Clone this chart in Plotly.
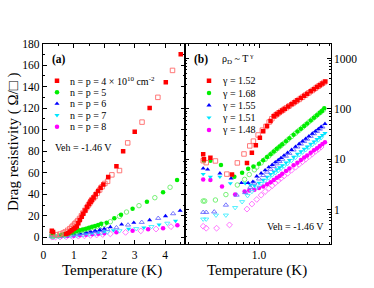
import plotly.graph_objects as go

# ---------------- DATA ----------------
series_names = ["n = p = 4 \u00d7 10<sup>10</sup> cm<sup>-2</sup>", "n = p = 5", "n = p = 6", "n = p = 7", "n = p = 8"]
gamma_labels = ["\u03b3 = 1.52", "\u03b3 = 1.68", "\u03b3 = 1.55", "\u03b3 = 1.51", "\u03b3 = 1.48"]

# Panel (a): linear scale (Temperature K, Drag resistivity Ohm/sq)
a_red_f_T = [0.28, 0.32, 0.75, 0.82, 0.88, 0.94, 1.0, 1.05, 1.1, 1.15, 1.2, 1.26, 1.31, 1.38, 1.44, 1.5, 1.55, 1.59, 1.65, 1.72, 1.8, 1.88, 1.97, 2.13, 2.4, 2.62, 3.0, 3.49, 4.02, 4.51]
a_red_f_v = [6, 5, 3, 4, 5.5, 6.5, 8, 9, 10, 13, 16, 19, 22, 25, 28.5, 31, 33, 34.7, 37, 40, 43, 46, 49, 56, 66, 80, 98, 120, 144, 170]
a_red_o_T = [0.3, 0.42, 0.55, 0.65, 0.72, 0.8, 0.87, 0.93, 0.98, 1.03, 1.08, 1.13, 1.19, 1.25, 1.3, 1.36, 1.42, 1.48, 1.53, 1.56, 1.6, 1.65, 1.7, 1.77, 1.85, 1.93, 2.02, 2.11, 2.25, 2.5, 2.77, 3.24, 3.76, 4.24]
a_red_o_v = [3.5, 2.5, 3, 4, 5, 6.5, 8, 9.5, 11, 12.5, 14, 15.5, 17.5, 20, 22.5, 25, 27.5, 30, 32, 33.5, 35, 36.5, 38, 41, 44, 47, 50, 52, 58, 62, 87.7, 107, 130, 155]

a_grn_f_T = [0.28, 0.32, 0.6, 0.7, 0.8, 0.9, 1.0, 1.1, 1.2, 1.3, 1.4, 1.5, 1.6, 1.7, 1.8, 1.9, 2.08, 2.33, 2.55, 2.93, 3.4, 3.93, 4.39]
a_grn_f_v = [4.5, 4, 2.5, 3, 3.5, 4.2, 5, 5.8, 6.5, 7.2, 8, 9, 9.8, 10.5, 11.5, 12.5, 13.5, 17.7, 21, 26.6, 33, 41.8, 53.3]
a_grn_o_T = [0.28, 0.35, 0.5, 0.65, 0.75, 0.85, 0.95, 1.05, 1.15, 1.25, 1.35, 1.45, 1.55, 1.65, 1.75, 1.85, 2.0, 2.2, 2.5, 2.73, 3.14, 3.66, 4.16]
a_grn_o_v = [1.2, 1.2, 1.5, 2.2, 2.8, 3.5, 4.2, 5, 5.7, 6.4, 7, 7.8, 8.6, 9.4, 10.2, 11, 12, 14.5, 19.5, 23.5, 29.4, 36.8, 46.5]

a_blu_f_T = [0.28, 0.32, 0.6, 0.8, 1.0, 1.2, 1.4, 1.55, 1.7, 1.85, 2.0, 2.2, 2.57, 2.97, 3.49, 4.01, 4.49]
a_blu_f_v = [3.5, 3, 2, 2.5, 3.2, 4, 4.8, 5.5, 6.2, 7, 8, 9.5, 12, 13.6, 16, 19.8, 24.7]
a_blu_o_T = [0.28, 0.35, 0.5, 0.7, 0.9, 1.1, 1.3, 1.5, 1.7, 1.9, 2.1, 2.4, 2.78, 3.23, 3.77, 4.26]
a_blu_o_v = [0.8, 0.8, 1, 1.5, 2.2, 3, 3.8, 4.8, 5.5, 6.5, 7.5, 9, 11.5, 14, 17.7, 22]

a_cyn_f_T = [0.28, 0.32, 0.6, 0.8, 1.0, 1.2, 1.4, 1.6, 1.8, 2.0, 2.3, 2.8, 3.3, 3.8, 4.34]
a_cyn_f_v = [2.8, 2.5, 1.8, 2.0, 2.5, 3, 3.6, 4.2, 4.8, 5.5, 6.5, 7.8, 9, 11.7, 15.2]
a_cyn_o_T = [0.28, 0.35, 0.5, 0.7, 0.9, 1.1, 1.3, 1.5, 1.7, 1.9, 2.1, 2.5, 3.05, 3.55, 4.07]
a_cyn_o_v = [0.5, 0.5, 0.6, 0.9, 1.3, 1.8, 2.3, 2.9, 3.5, 4.1, 4.8, 6, 8, 9.9, 13]

a_mag_f_T = [0.28, 0.32, 0.6, 0.8, 1.0, 1.2, 1.4, 1.6, 1.8, 2.0, 2.4, 2.93, 3.44, 3.93, 4.4]
a_mag_f_v = [2, 1.8, 1.0, 1.2, 1.5, 1.9, 2.3, 2.8, 3.3, 3.8, 4.8, 6, 7.4, 8.4, 11.1]
a_mag_o_T = [0.28, 0.32, 0.4, 0.55, 0.75, 0.95, 1.15, 1.35, 1.55, 1.75, 1.95, 2.2, 2.7, 3.2, 3.7, 4.19]
a_mag_o_v = [0.3, 0.25, 0.25, 0.3, 0.55, 0.8, 1.1, 1.4, 1.8, 2.2, 2.6, 3.2, 4.6, 6, 7.7, 9.9]

# Panel (b): log-log scale
b_red_f_T = [0.28, 0.285, 0.33, 0.54, 0.76, 0.85, 0.93, 1.02, 1.1, 1.2, 1.3, 1.4, 1.5, 1.6, 1.7, 1.8, 1.95, 2.1, 2.25, 2.4, 2.6, 2.8, 3.0, 3.25, 3.5, 3.75, 4.0, 4.25, 4.54]
b_red_f_v = [12.6, 10, 10.8, 5, 8.5, 13.6, 19, 27, 36, 46, 58, 72, 79, 86, 93, 101, 112, 124, 136, 149, 166, 183, 201, 224, 247, 272, 296, 321, 351]
b_red_o_T = [0.28, 0.30, 0.37, 0.48, 0.61, 0.71, 0.81, 0.88, 0.98, 1.08, 1.17, 1.26, 1.34, 1.42, 1.47, 1.52, 1.57, 1.65, 1.75, 1.87, 2.0, 2.17, 2.33, 2.5, 2.7, 2.9, 3.12, 3.37, 3.62, 3.87, 4.12, 4.4]
b_red_o_v = [9.4, 8.6, 9.3, 5.1, 8.5, 12.8, 18.5, 23, 30.5, 38, 45, 55, 64, 72, 76, 80, 84, 90, 97, 106, 116, 129, 142, 155, 172, 190, 210, 233, 258, 283, 308, 336]

b_grn_f_T = [0.285, 0.33, 0.42, 0.57, 0.68, 0.78, 0.88, 1.0, 1.1, 1.2, 1.3, 1.4, 1.5, 1.6, 1.7, 1.85, 2.0, 2.2, 2.4, 2.6, 2.8, 3.0, 3.25, 3.5, 3.75, 4.0, 4.2, 4.43]
b_grn_f_v = [9.4, 9.4, 7.7, 4.5, 5.4, 6.5, 7.2, 8.2, 9.6, 11.1, 12.7, 14.4, 16.2, 18, 19.9, 23, 26.2, 30.7, 35.6, 40.7, 46.1, 51.7, 59.2, 67, 75.3, 83.9, 91, 103]
b_grn_o_T = [0.28, 0.29, 0.37, 0.47, 0.61, 0.72, 0.8, 0.9, 0.95, 1.05, 1.15, 1.25, 1.35, 1.45, 1.55, 1.65, 1.77, 1.92, 2.1, 2.3, 2.5, 2.7, 2.9, 3.12, 3.37, 3.62, 3.87, 4.1, 4.32]
b_grn_o_v = [1.49, 1.49, 1.56, 2.0, 3.1, 4.0, 5.0, 6.2, 7.0, 8.5, 10, 11.6, 13.3, 15, 16.8, 18.7, 21, 24.3, 28.4, 33, 38, 43.3, 48.8, 55.3, 62.8, 71, 79.5, 87, 95]

b_blu_f_T = [0.28, 0.31, 0.41, 0.53, 0.67, 0.78, 0.87, 0.95, 1.05, 1.15, 1.25, 1.35, 1.45, 1.55, 1.65, 1.77, 1.92, 2.1, 2.3, 2.5, 2.7, 2.9, 3.12, 3.37, 3.62, 3.87, 4.12, 4.5]
b_blu_f_v = [6.6, 6.3, 5.3, 4.2, 3.4, 3.4, 3.6, 4.6, 5.3, 6.1, 7.0, 7.8, 8.8, 9.7, 10.7, 12.0, 13.6, 15.5, 17.9, 20.4, 23.0, 25.7, 28.8, 32.5, 36.2, 40.2, 44.3, 50.7]
b_blu_o_T = [0.28, 0.30, 0.36, 0.47, 0.6, 0.73, 0.82, 0.9, 1.0, 1.1, 1.2, 1.3, 1.4, 1.5, 1.6, 1.7, 1.85, 2.0, 2.2, 2.4, 2.6, 2.8, 3.0, 3.25, 3.5, 3.75, 4.0, 4.25]
b_blu_o_v = [0.89, 0.89, 0.91, 1.24, 1.96, 2.2, 2.8, 3.4, 4.1, 4.8, 5.6, 6.4, 7.3, 8.2, 9.1, 10.1, 11.6, 13.2, 15.4, 17.7, 20.2, 22.7, 25.3, 28.8, 32.4, 36.1, 40, 44]

b_cyn_f_T = [0.28, 0.33, 0.41, 0.52, 0.73, 0.82, 0.9, 1.0, 1.1, 1.2, 1.3, 1.4, 1.5, 1.6, 1.7, 1.85, 2.0, 2.2, 2.4, 2.6, 2.8, 3.0, 3.25, 3.5, 3.75, 4.0, 4.25, 4.5]
b_cyn_f_v = [5.1, 4.5, 4.5, 3.35, 3.35, 3.1, 3.0, 3.4, 3.9, 4.5, 5.1, 5.7, 6.3, 6.9, 7.6, 8.6, 9.7, 11.2, 12.8, 14.4, 16.1, 17.9, 20.2, 22.6, 25.1, 27.6, 30.3, 33]
b_cyn_o_T = [0.28, 0.30, 0.375, 0.47, 0.58, 0.68, 0.77, 0.85, 0.95, 1.05, 1.15, 1.25, 1.35, 1.45, 1.55, 1.65, 1.77, 1.92, 2.1, 2.3, 2.5, 2.7, 2.9, 3.12, 3.37, 3.62, 3.87, 4.12]
b_cyn_o_v = [0.65, 0.65, 0.78, 0.78, 1.1, 1.44, 1.9, 2.3, 2.8, 3.3, 3.8, 4.3, 4.9, 5.4, 6.0, 6.6, 7.3, 8.3, 9.5, 10.9, 12.4, 13.9, 15.5, 17.4, 19.6, 21.9, 24.3, 26.8]

b_mag_f_T = [0.28, 0.33, 0.43, 0.58, 0.72, 0.8, 0.9, 1.0, 1.1, 1.2, 1.3, 1.4, 1.5, 1.6, 1.7, 1.85, 2.0, 2.2, 2.4, 2.6, 2.8, 3.0, 3.25, 3.5, 3.75, 4.0, 4.25, 4.5]
b_mag_f_v = [4.0, 3.9, 2.9, 2.0, 2.3, 2.4, 2.5, 2.7, 2.9, 3.2, 3.5, 3.9, 4.3, 4.7, 5.2, 5.9, 6.6, 7.6, 8.6, 9.7, 10.9, 12.0, 13.5, 15.1, 16.7, 18.4, 20.1, 21.9]
b_mag_o_T = [0.28, 0.30, 0.38, 0.51, 0.76, 0.85, 0.95, 1.05, 1.15, 1.25, 1.35, 1.45, 1.55, 1.65, 1.77, 1.92, 2.1, 2.3, 2.5, 2.7, 2.9, 3.12, 3.37, 3.62, 3.87, 4.12]
b_mag_o_v = [0.47, 0.43, 0.43, 0.5, 1.03, 1.3, 1.6, 1.95, 2.3, 2.65, 3.0, 3.4, 3.8, 4.2, 4.7, 5.3, 6.1, 7.0, 8.0, 9.0, 10.1, 11.3, 12.8, 14.4, 15.9, 17.6]

a_xticks = [0, 1, 2, 3, 4]
a_yticks = [0, 20, 40, 60, 80, 100, 120, 140, 160, 180]
b_xticks = [1.0]
b_xticklabels = ["1.0"]
b_yticks = [1, 10, 100, 1000]
b_yticklabels = ["1", "10", "100", "1000"]

# ---------------- STYLE / LAYOUT ----------------
W, H = 374, 288
FONT = "Liberation Serif"
colors = ["#ff0000", "#00ee00", "#0000ff", "#00e5ff", "#ff00ff"]
open_colors = ["#ff6a6a", "#66ee66", "#6a6aff", "#44eeff", "#ff66ff"]
sym_f = ["square", "circle", "triangle-up", "triangle-down", "circle"]
sym_o = ["square-open", "circle-open", "triangle-up-open", "triangle-down-open", "diamond-open"]
msize = 4.5

A_L, A_R = 42.7, 185.0
B_L, B_R = 185.0, 330.7
P_T, P_B = 43.5, 244.0
a_xr = [-0.02, 4.65]
a_yr = [-6.2, 180]
b_xr = [-0.733, 0.71]   # log10
b_yr = [-0.68, 3.30]    # log10

def px(x):
    return x / W

def py(y):
    return 1 - y / H

def a_data(xp, yp):
    x = a_xr[0] + (xp - A_L) / (A_R - A_L) * (a_xr[1] - a_xr[0])
    y = a_yr[1] - (yp - P_T) / (P_B - P_T) * (a_yr[1] - a_yr[0])
    return x, y

def b_data(xp, yp):
    lx = b_xr[0] + (xp - B_L) / (B_R - B_L) * (b_xr[1] - b_xr[0])
    ly = b_yr[1] - (yp - P_T) / (P_B - P_T) * (b_yr[1] - b_yr[0])
    return 10 ** lx, 10 ** ly

a_sets = [(a_red_f_T, a_red_f_v, a_red_o_T, a_red_o_v),
          (a_grn_f_T, a_grn_f_v, a_grn_o_T, a_grn_o_v),
          (a_blu_f_T, a_blu_f_v, a_blu_o_T, a_blu_o_v),
          (a_cyn_f_T, a_cyn_f_v, a_cyn_o_T, a_cyn_o_v),
          (a_mag_f_T, a_mag_f_v, a_mag_o_T, a_mag_o_v)]
b_sets = [(b_red_f_T, b_red_f_v, b_red_o_T, b_red_o_v),
          (b_grn_f_T, b_grn_f_v, b_grn_o_T, b_grn_o_v),
          (b_blu_f_T, b_blu_f_v, b_blu_o_T, b_blu_o_v),
          (b_cyn_f_T, b_cyn_f_v, b_cyn_o_T, b_cyn_o_v),
          (b_mag_f_T, b_mag_f_v, b_mag_o_T, b_mag_o_v)]

fig = go.Figure()

for i in reversed(range(5)):
    fT, fv, oT, ov = a_sets[i]
    fig.add_trace(go.Scatter(x=oT, y=ov, mode="markers", xaxis="x", yaxis="y",
                             marker=dict(symbol=sym_o[i], size=msize, color=open_colors[i], line=dict(width=0.9, color=open_colors[i])),
                             showlegend=False))
    fig.add_trace(go.Scatter(x=fT, y=fv, mode="markers", xaxis="x", yaxis="y",
                             marker=dict(symbol=sym_f[i], size=msize, color=colors[i], line=dict(width=0)),
                             showlegend=False))
    fT, fv, oT, ov = b_sets[i]
    fig.add_trace(go.Scatter(x=oT, y=ov, mode="markers", xaxis="x2", yaxis="y2",
                             marker=dict(symbol=sym_o[i], size=msize, color=open_colors[i], line=dict(width=0.9, color=open_colors[i])),
                             showlegend=False))
    fig.add_trace(go.Scatter(x=fT, y=fv, mode="markers", xaxis="x2", yaxis="y2",
                             marker=dict(symbol=sym_f[i], size=msize, color=colors[i], line=dict(width=0)),
                             showlegend=False))

# legend keys (pixel positions converted to each panel's data space)
leg_a_x, leg_a_y0, leg_a_dy = 57, 80.7, 11.5
leg_b_x, leg_b_y0, leg_b_dy = 209, 80.7, 12.3
for i in range(5):
    ax_, ay_ = a_data(leg_a_x, leg_a_y0 + i * leg_a_dy)
    bx_, by_ = b_data(leg_b_x, leg_b_y0 + i * leg_b_dy)
    fig.add_trace(go.Scatter(x=[ax_], y=[ay_], mode="markers", xaxis="x", yaxis="y",
                             marker=dict(symbol=sym_f[i], size=msize, color=colors[i], line=dict(width=0)),
                             showlegend=False, hoverinfo="skip"))
    fig.add_trace(go.Scatter(x=[bx_], y=[by_], mode="markers", xaxis="x2", yaxis="y2",
                             marker=dict(symbol=sym_f[i], size=msize, color=colors[i], line=dict(width=0)),
                             showlegend=False, hoverinfo="skip"))

tickfont = dict(family=FONT, size=11.5, color="black")
common = dict(showline=True, linecolor="black", linewidth=1, mirror="allticks",
              ticks="inside", ticklen=4, tickwidth=1, tickcolor="black",
              showgrid=False, zeroline=False, tickfont=tickfont)

fig.update_layout(
    width=W, height=H, margin=dict(l=0, r=0, t=0, b=0, autoexpand=False),
    paper_bgcolor="white", plot_bgcolor="white", showlegend=False, hovermode=False,
    xaxis=dict(domain=[px(A_L), px(A_R)], range=a_xr, tickvals=a_xticks, anchor="y",
               minor=dict(dtick=0.5, tick0=0, ticks="inside", ticklen=2, tickcolor="black"), **common),
    yaxis=dict(domain=[py(P_B), py(P_T)], range=a_yr, tickvals=a_yticks, anchor="x",
               minor=dict(dtick=10, tick0=0, ticks="inside", ticklen=2, tickcolor="black"), **common),
    xaxis2=dict(domain=[px(B_L), px(B_R)], type="log", range=b_xr, tickvals=b_xticks, ticktext=b_xticklabels, anchor="y2",
                minor=dict(tickvals=[0.2, 0.3, 0.4, 0.5, 0.6, 0.7, 0.8, 0.9, 2, 3, 4, 5], ticks="inside", ticklen=2, tickcolor="black"),
                **common),
    yaxis2=dict(domain=[py(P_B), py(P_T)], type="log", range=b_yr, tickvals=b_yticks, ticktext=b_yticklabels, anchor="x2", side="right",
                minor=dict(tickvals=[0.3, 0.4, 0.5, 0.6, 0.7, 0.8, 0.9, 2, 3, 4, 5, 6, 7, 8, 9, 20, 30, 40, 50, 60, 70, 80, 90,
                                     200, 300, 400, 500, 600, 700, 800, 900, 2000], ticks="inside", ticklen=2, tickcolor="black"),
                **common),
)

ann = []
def text(x, y, s, size=10, xanchor="left", textangle=0, bold=False):
    if bold:
        s = "<b>" + s + "</b>"
    ann.append(dict(x=px(x), y=py(y), xref="paper", yref="paper", text=s, showarrow=False,
                    xanchor=xanchor, yanchor="middle", textangle=textangle, borderpad=0,
                    font=dict(family=FONT, size=size, color="black")))

text(50.5, 59, "(a)", size=11.5, bold=True)
text(193, 59, "(b)", size=11.5, bold=True)
text(221, 59, "\u03c1<sub>D</sub> ~ T<sup> \u03b3</sup>", size=10)
for i in range(5):
    text(69, leg_a_y0 + i * leg_a_dy, series_names[i], size=10)
    text(221, leg_b_y0 + i * leg_b_dy, gamma_labels[i], size=10)
text(54, 147, "Veh = -1.46 V", size=10)
text(266, 226.5, "Veh = -1.46 V", size=10)
text(111.5, 270, "Temperature (K)", size=15, xanchor="center")
text(257, 270, "Temperature (K)", size=15, xanchor="center")
text(13, 142, "Drag resistivity ( \u03a9/\u25a1 )", size=15, xanchor="center", textangle=-90)

fig.update_layout(annotations=ann)
fig.write_html("out.html", config={"displayModeBar": False, "staticPlot": True},
               post_script="document.body.style.margin='0';document.body.style.overflow='hidden';")
